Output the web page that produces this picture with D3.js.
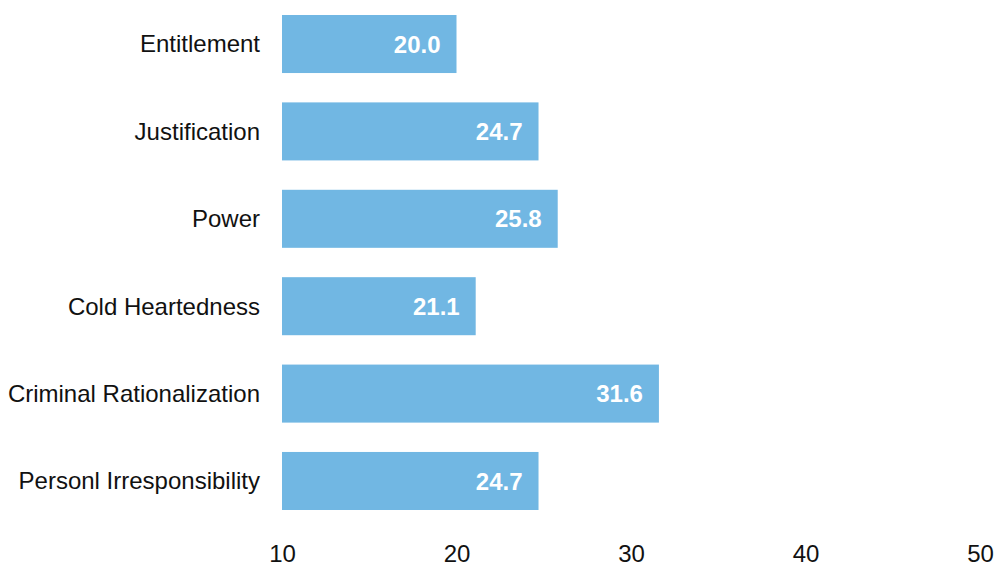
<!DOCTYPE html>
<html>
<head>
<meta charset="utf-8">
<script src="https://cdn.jsdelivr.net/npm/d3@7"></script>
<style>
  html, body { margin: 0; padding: 0; background: #fff; }
  svg { display: block; font-family: "Liberation Sans", Arial, sans-serif; }
</style>
</head>
<body>
<svg id="chart" width="996" height="565"></svg>
<script>
// Scale scores by dimension
const categories = [
  "Entitlement",
  "Justification",
  "Power",
  "Cold Heartedness",
  "Criminal Rationalization",
  "Personl Irresponsibility"
];
const values = [20.0, 24.7, 25.8, 21.1, 31.6, 24.7];
const tickValues = [10, 20, 30, 40, 50];

const svg = d3.select("#chart");

const x = d3.scaleLinear().domain([10, 50]).range([282, 980]);
const y = d3.scaleBand()
  .domain(categories)
  .range([15, 510])
  .paddingInner(0.336)
  .paddingOuter(0);

const data = categories.map((c, i) => ({ category: c, value: values[i] }));

// Bars
svg.append("g")
  .selectAll("rect")
  .data(data)
  .join("rect")
  .attr("x", x(10))
  .attr("y", d => y(d.category))
  .attr("width", d => x(d.value) - x(10))
  .attr("height", y.bandwidth())
  .attr("fill", "#71b7e3");

// Value labels inside bar ends
svg.append("g")
  .selectAll("text")
  .data(data)
  .join("text")
  .attr("x", d => x(d.value) - 16)
  .attr("y", d => y(d.category) + y.bandwidth() / 2)
  .attr("dy", "0.36em")
  .attr("text-anchor", "end")
  .attr("fill", "#ffffff")
  .attr("font-weight", "bold")
  .attr("font-size", 24)
  .text(d => d3.format(".1f")(d.value));

// Category axis (labels only)
const yAxis = svg.append("g")
  .attr("transform", `translate(${x(10)},0)`)
  .call(d3.axisLeft(y).tickSize(0).tickPadding(22));
yAxis.select(".domain").remove();
yAxis.selectAll("text")
  .attr("font-size", 24)
  .attr("font-family", "Liberation Sans, Arial, sans-serif")
  .attr("fill", "#111")
  .attr("dy", "0.35em");

// Value axis (labels only)
const xAxis = svg.append("g")
  .attr("transform", "translate(0,535)")
  .call(d3.axisBottom(x).tickValues(tickValues).tickSize(0).tickPadding(0)
    .tickFormat(d3.format("d")));
xAxis.select(".domain").remove();
xAxis.selectAll("text")
  .attr("font-size", 24)
  .attr("font-family", "Liberation Sans, Arial, sans-serif")
  .attr("fill", "#111")
  .attr("dy", "1.12em");
</script>
</body>
</html>
